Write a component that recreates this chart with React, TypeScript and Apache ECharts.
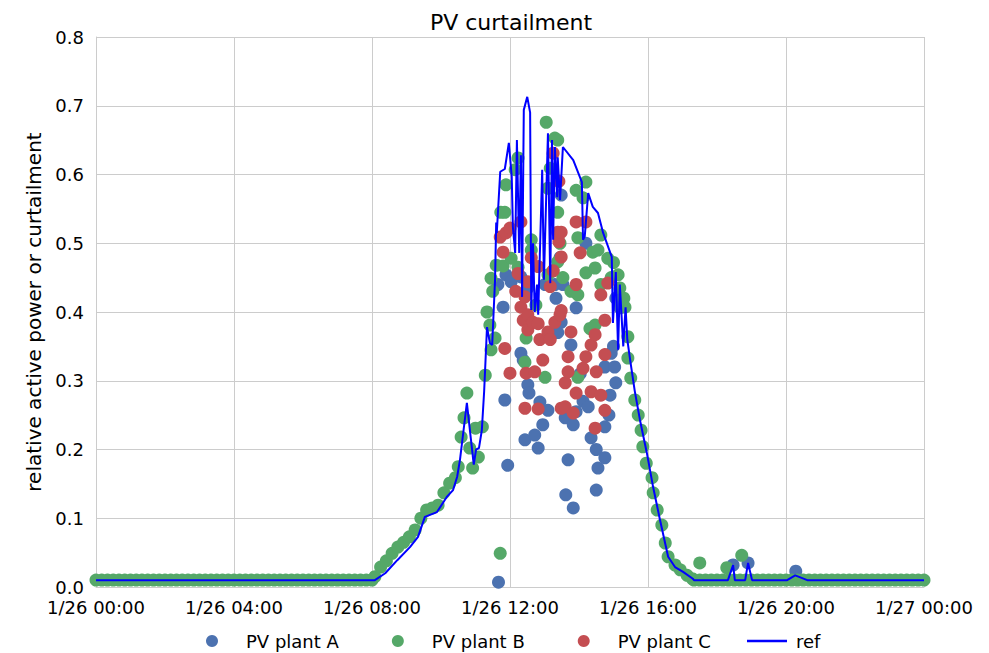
import React, { useEffect, useRef } from "react";
import * as echarts from "echarts";

// x values are minutes after 1/26 00:00
const xTickLabels = ["1/26 00:00", "1/26 04:00", "1/26 08:00", "1/26 12:00", "1/26 16:00", "1/26 20:00", "1/27 00:00"];
const yTickLabels = ["0.0", "0.1", "0.2", "0.3", "0.4", "0.5", "0.6", "0.7", "0.8"];
const seriesNames = ["PV plant A", "PV plant B", "PV plant C", "ref"];

const plantA: [number, number][] = [
  [700, 0.007], [699, 0.44], [708, 0.407], [711, 0.272], [713, 0.454], [716, 0.177], [722, 0.444],
  [739, 0.34], [739, 0.451], [743, 0.33], [746, 0.214], [751, 0.294], [753, 0.282], [751, 0.435],
  [763, 0.221], [769, 0.202], [772, 0.269], [777, 0.236], [781, 0.44], [786, 0.257], [798, 0.44],
  [800, 0.42], [803, 0.37], [807, 0.479], [809, 0.57], [809, 0.385], [812, 0.44], [816, 0.246],
  [817, 0.134], [821, 0.185], [826, 0.352], [830, 0.236], [830, 0.115], [835, 0.406], [835, 0.255],
  [842, 0.31], [847, 0.27], [852, 0.5], [856, 0.262], [861, 0.217], [870, 0.2], [870, 0.141],
  [873, 0.173], [885, 0.233], [885, 0.188], [885, 0.32], [892, 0.25], [894, 0.279], [896, 0.34],
  [900, 0.35], [902, 0.32], [904, 0.42], [904, 0.297], [911, 0.406],
  [1108, 0.032], [1134, 0.035], [1217, 0.023],
];

const plantB: [number, number][] = [
  [0, 0.01], [10, 0.01], [20, 0.01], [30, 0.01], [40, 0.01], [50, 0.01], [60, 0.01], [70, 0.01],
  [80, 0.01], [90, 0.01], [100, 0.01], [110, 0.01], [120, 0.01], [130, 0.01], [140, 0.01], [150, 0.01],
  [160, 0.01], [170, 0.01], [180, 0.01], [190, 0.01], [200, 0.01], [210, 0.01], [220, 0.01], [230, 0.01],
  [240, 0.01], [250, 0.01], [260, 0.01], [270, 0.01], [280, 0.01], [290, 0.01], [300, 0.01], [310, 0.01],
  [320, 0.01], [330, 0.01], [340, 0.01], [350, 0.01], [360, 0.01], [370, 0.01], [380, 0.01], [390, 0.01],
  [400, 0.01], [410, 0.01], [420, 0.01], [430, 0.01], [440, 0.01], [450, 0.01], [460, 0.01], [470, 0.01],
  [480, 0.01], [485, 0.015], [495, 0.029], [505, 0.038], [515, 0.049], [525, 0.058], [535, 0.065],
  [545, 0.073], [555, 0.083], [565, 0.1], [575, 0.112], [585, 0.115], [595, 0.119], [605, 0.137],
  [615, 0.151], [625, 0.159], [630, 0.175], [635, 0.218], [640, 0.246], [645, 0.282], [650, 0.202],
  [655, 0.173], [660, 0.231], [665, 0.189], [672, 0.233], [677, 0.308], [680, 0.4], [685, 0.381],
  [687, 0.345], [687, 0.449], [690, 0.43], [694, 0.362], [696, 0.468], [703, 0.049], [704, 0.545],
  [708, 0.467], [711, 0.545], [713, 0.585], [722, 0.478], [729, 0.607], [734, 0.624], [734, 0.465],
  [746, 0.327], [748, 0.362], [757, 0.505], [757, 0.49], [765, 0.41], [781, 0.305], [783, 0.676],
  [786, 0.58], [786, 0.454], [790, 0.609], [795, 0.46], [798, 0.653], [803, 0.65], [803, 0.545],
  [803, 0.473], [807, 0.5], [812, 0.45], [826, 0.43], [835, 0.577], [838, 0.508], [838, 0.425],
  [838, 0.305], [847, 0.566], [852, 0.589], [852, 0.457], [859, 0.376], [864, 0.487], [868, 0.464],
  [868, 0.381], [873, 0.49], [878, 0.512], [878, 0.44], [890, 0.478], [896, 0.45], [900, 0.472],
  [908, 0.454], [911, 0.435], [918, 0.42], [920, 0.407], [925, 0.364], [925, 0.333], [930, 0.304],
  [937, 0.272], [943, 0.25], [948, 0.228], [951, 0.204], [957, 0.18], [967, 0.159], [969, 0.137],
  [976, 0.112], [984, 0.09], [990, 0.064], [995, 0.044], [1007, 0.032], [1016, 0.025], [1028, 0.017],
  [1037, 0.012], [1040, 0.01], [1050, 0.035], [1050, 0.01], [1060, 0.01], [1070, 0.01], [1080, 0.01],
  [1090, 0.01], [1097, 0.028], [1100, 0.01], [1110, 0.01], [1120, 0.01], [1123, 0.046], [1130, 0.01],
  [1140, 0.01], [1150, 0.01], [1160, 0.01], [1170, 0.01], [1180, 0.01], [1190, 0.01], [1200, 0.01],
  [1210, 0.01], [1220, 0.01], [1230, 0.01], [1240, 0.01], [1250, 0.01], [1260, 0.01], [1270, 0.01],
  [1280, 0.01], [1290, 0.01], [1300, 0.01], [1310, 0.01], [1320, 0.01], [1330, 0.01], [1340, 0.01],
  [1350, 0.01], [1360, 0.01], [1370, 0.01], [1380, 0.01], [1390, 0.01], [1400, 0.01], [1410, 0.01],
  [1420, 0.01], [1430, 0.01], [1440, 0.01],
];

const plantC: [number, number][] = [
  [703, 0.509], [708, 0.487], [711, 0.347], [713, 0.515], [720, 0.522], [720, 0.311], [730, 0.43],
  [734, 0.456], [739, 0.531], [739, 0.407], [743, 0.388], [746, 0.422], [746, 0.26], [748, 0.311],
  [751, 0.444], [751, 0.396], [751, 0.374], [757, 0.479], [760, 0.385], [763, 0.313], [769, 0.466],
  [769, 0.383], [769, 0.259], [772, 0.36], [777, 0.33], [786, 0.371], [790, 0.437], [790, 0.36],
  [795, 0.631], [795, 0.46], [798, 0.385], [803, 0.516], [805, 0.59], [805, 0.502], [807, 0.396],
  [809, 0.516], [809, 0.48], [809, 0.402], [809, 0.26], [816, 0.297], [816, 0.262], [821, 0.335],
  [821, 0.313], [826, 0.371], [830, 0.253], [835, 0.531], [835, 0.44], [835, 0.282], [842, 0.486],
  [847, 0.318], [852, 0.531], [852, 0.335], [861, 0.352], [861, 0.284], [868, 0.367], [868, 0.231],
  [870, 0.313], [878, 0.425], [878, 0.279], [885, 0.388], [885, 0.338], [885, 0.257], [890, 0.442],
];

const refMinutes = [
  0, 485, 503, 524, 546, 560, 572, 593, 610, 621, 628, 633, 645, 652, 657, 661, 666, 671, 675, 680,
  685, 689, 694, 696, 697, 703, 711, 718, 723, 725, 729, 732, 736, 739, 741, 744, 750, 755, 757, 760,
  763, 767, 769, 776, 779, 786, 790, 793, 795, 798, 802, 803, 807, 812, 830, 845, 847, 850, 856, 864,
  873, 882, 897, 899, 904, 908, 911, 917, 921, 924, 929, 937, 946, 958, 969, 981, 995, 1007, 1021, 1038,
  1040, 1099, 1108, 1111, 1129, 1134, 1141, 1202, 1216, 1237, 1440,
];
const refValues = [
  0.01, 0.01, 0.02, 0.039, 0.058, 0.073, 0.102, 0.109, 0.131, 0.141, 0.16, 0.185, 0.268, 0.215, 0.178, 0.2, 0.202, 0.228, 0.284, 0.378,
  0.355, 0.352, 0.447, 0.53, 0.515, 0.604, 0.608, 0.646, 0.597, 0.524, 0.486, 0.65, 0.486, 0.628, 0.422, 0.694, 0.713, 0.69, 0.403, 0.5,
  0.4, 0.44, 0.396, 0.607, 0.447, 0.66, 0.442, 0.65, 0.505, 0.64, 0.567, 0.625, 0.563, 0.64, 0.621, 0.589, 0.505, 0.51, 0.573, 0.553,
  0.544, 0.515, 0.48, 0.384, 0.458, 0.345, 0.44, 0.35, 0.407, 0.36, 0.33, 0.285, 0.243, 0.195, 0.145, 0.097, 0.044, 0.029, 0.022, 0.012,
  0.01, 0.01, 0.032, 0.01, 0.01, 0.035, 0.01, 0.01, 0.017, 0.01, 0.01,
];

const COLORS = ["#4C72B0", "#55A868", "#C44E52", "#0000FF"];
const FONT = "DejaVu Sans";

export default function App() {
  const ref = useRef<HTMLDivElement>(null);
  useEffect(() => {
    if (!ref.current) return;
    const chart = echarts.init(ref.current, undefined, { renderer: "svg" });
    const refData = refMinutes.map((m, i) => [m, refValues[i]]);
    const scatter = (name: string, data: [number, number][], color: string) => ({
      type: "scatter",
      name,
      data,
      symbol: "circle",
      symbolSize: 13,
      itemStyle: { color, opacity: 1 },
      emphasis: { disabled: true },
    });
    const legendCommon = {
      top: 627,
      itemWidth: 40,
      itemHeight: 12,
      itemGap: 53,
      selectedMode: false,
      textStyle: { fontFamily: FONT, fontSize: 18, color: "#000", padding: [0, 0, 0, 9] },
    };
    chart.setOption({
      animation: false,
      textStyle: { fontFamily: FONT },
      title: {
        text: "PV curtailment",
        left: 506,
        top: 6,
        textAlign: "center",
        textStyle: { fontFamily: FONT, fontSize: 22, fontWeight: "normal", color: "#000" },
      },
      grid: { left: 96, right: 65, top: 37, bottom: 66 },
      legend: [
        {
          ...legendCommon,
          left: 201,
          data: [
            { name: seriesNames[0], icon: "circle" },
            { name: seriesNames[1], icon: "circle" },
            { name: seriesNames[2], icon: "circle" },
          ],
        },
        {
          ...legendCommon,
          left: 742,
          textStyle: { fontFamily: FONT, fontSize: 18, color: "#000", padding: [0, 0, 0, 4] },
          data: [{ name: seriesNames[3], icon: "path://M0,0 L40,0 L40,2.5 L0,2.5 Z" }],
        },
      ],
      xAxis: {
        type: "value",
        min: 0,
        max: 1440,
        interval: 240,
        axisLine: { show: true, lineStyle: { color: "#cccccc", width: 1 } },
        axisTick: { show: false },
        splitLine: { show: true, lineStyle: { color: "#cccccc", width: 1 } },
        axisLabel: {
          margin: 11,
          fontFamily: FONT,
          fontSize: 18,
          color: "#000",
          formatter: (v: number) => xTickLabels[Math.round(v / 240)] ?? "",
        },
      },
      yAxis: {
        type: "value",
        min: 0,
        max: 0.8,
        interval: 0.1,
        name: "relative active power or curtailment",
        nameLocation: "middle",
        nameGap: 47,
        nameTextStyle: { fontFamily: FONT, fontSize: 20, color: "#000" },
        axisLine: { show: true, lineStyle: { color: "#cccccc", width: 1 } },
        axisTick: { show: false },
        splitLine: { show: true, lineStyle: { color: "#cccccc", width: 1 } },
        axisLabel: {
          margin: 12,
          fontFamily: FONT,
          fontSize: 18,
          color: "#000",
          formatter: (v: number) => yTickLabels[Math.round(v * 10)] ?? "",
        },
      },
      series: [
        scatter(seriesNames[0], plantA, COLORS[0]),
        scatter(seriesNames[1], plantB, COLORS[1]),
        scatter(seriesNames[2], plantC, COLORS[2]),
        {
          type: "line",
          name: seriesNames[3],
          data: refData,
          showSymbol: false,
          symbol: "none",
          lineStyle: { color: COLORS[3], width: 2 },
          itemStyle: { color: COLORS[3] },
          emphasis: { disabled: true },
          z: 5,
        },
      ],
    });
    return () => chart.dispose();
  }, []);
  return (
    <div
      ref={ref}
      style={{ position: "absolute", left: 0, top: 0, width: 989, height: 653, background: "#fff" }}
    />
  );
}
